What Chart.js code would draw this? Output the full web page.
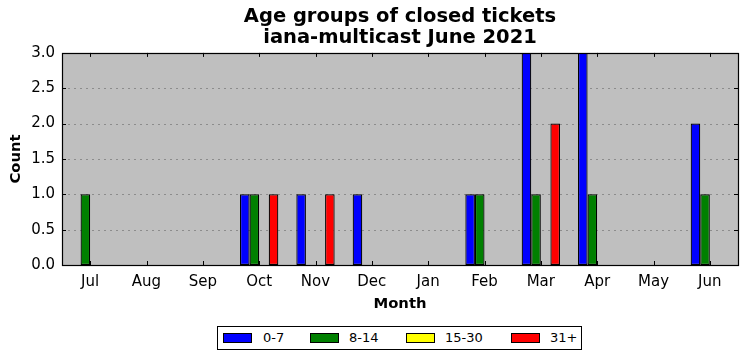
<!DOCTYPE html>
<html>
<head>
<meta charset="utf-8">
<script src="https://cdn.jsdelivr.net/npm/chart.js@4/dist/chart.umd.min.js"></script>
<style>
  html, body { margin: 0; padding: 0; background: #fff; }
  #wrap { position: relative; width: 747px; height: 361px; font-family: "DejaVu Sans", sans-serif; }
  #legend { position: absolute; left: 217px; top: 326px; width: 363px; height: 22px; border: 1px solid #000; background: #fff; box-sizing: content-box; }
  .item { position: absolute; top: 0; height: 22px; line-height: 22px; font-size: 13px; color: #000; }
  .sw { position: absolute; top: 6px; width: 27px; height: 8px; border: 1px solid #000; }
  .lbl { position: absolute; white-space: nowrap; }
</style>
</head>
<body>
<div id="wrap">
  <canvas id="c" width="747" height="361"></canvas>
  <div id="legend"></div>
</div>
<script>
const titleLines = ["Age groups of closed tickets", "iana-multicast June 2021"];
const months = ["Jul", "Aug", "Sep", "Oct", "Nov", "Dec", "Jan", "Feb", "Mar", "Apr", "May", "Jun"];
const seriesNames = ["0-7", "8-14", "15-30", "31+"];
const seriesColors = ["#0000ff", "#008000", "#ffff00", "#ff0000"];
const age0to7   = [0, 0, 0, 1, 1, 1, 0, 1, 3, 3, 0, 2];
const age8to14  = [1, 0, 0, 1, 0, 0, 0, 1, 1, 1, 0, 1];
const age15to30 = [0, 0, 0, 0, 0, 0, 0, 0, 0, 0, 0, 0];
const age31plus = [0, 0, 0, 1, 1, 0, 0, 0, 2, 0, 0, 0];
const yTicks = [0, 0.5, 1.0, 1.5, 2.0, 2.5, 3.0];
const seriesValues = [age0to7, age8to14, age15to30, age31plus];

const frame = {
  id: 'frame',
  beforeDatasetsDraw(chart) {
    const {ctx, chartArea: a} = chart;
    ctx.save();
    ctx.fillStyle = '#bfbfbf';
    ctx.fillRect(a.left, a.top, a.right - a.left, a.bottom - a.top);
    const ys = chart.scales.y;
    ctx.strokeStyle = '#8c8c8c';
    ctx.lineWidth = 1;
    ctx.setLineDash([2, 4]);
    yTicks.forEach(v => {
      const y = Math.round(ys.getPixelForValue(v)) + 0.5;
      ctx.beginPath(); ctx.moveTo(a.left, y); ctx.lineTo(a.right, y); ctx.stroke();
    });
    ctx.restore();
  },
  afterDatasetsDraw(chart) {
    const {ctx, chartArea: a} = chart;
    const ys = chart.scales.y, xs = chart.scales.x;
    ctx.save();
    ctx.strokeStyle = '#000';
    ctx.lineWidth = 1;
    ctx.setLineDash([]);
    const L = 4;
    yTicks.forEach(v => {
      const y = Math.round(ys.getPixelForValue(v)) + 0.5;
      ctx.beginPath();
      ctx.moveTo(a.left, y); ctx.lineTo(a.left + L, y);
      ctx.moveTo(a.right, y); ctx.lineTo(a.right - L, y);
      ctx.stroke();
    });
    months.forEach((m, i) => {
      const x = Math.round(xs.getPixelForValue(i)) + 0.5;
      ctx.beginPath();
      ctx.moveTo(x, a.bottom); ctx.lineTo(x, a.bottom - L);
      ctx.moveTo(x, a.top); ctx.lineTo(x, a.top + L);
      ctx.stroke();
    });
    ctx.lineWidth = 1.2;
    ctx.strokeRect(Math.round(a.left) + 0.5, Math.round(a.top) + 0.5, Math.round(a.right - a.left), Math.round(a.bottom - a.top));
    ctx.restore();
  }
};

new Chart(document.getElementById('c'), {
  type: 'bar',
  data: {
    labels: months,
    datasets: seriesNames.map((n, i) => ({
      label: n,
      data: seriesValues[i],
      backgroundColor: seriesColors[i],
      borderColor: '#000',
      borderWidth: 1.2,
      borderSkipped: false,
      inflateAmount: 0,
      barPercentage: 1.0,
      categoryPercentage: 0.68
    }))
  },
  options: {
    responsive: false,
    animation: false,
    layout: { padding: { left: 0, right: 9, top: 0, bottom: 48 } },
    plugins: {
      legend: { display: false },
      tooltip: { enabled: false },
      title: {
        display: true,
        fullSize: false,
        text: titleLines,
        color: '#000',
        font: { family: 'DejaVu Sans', size: 19.5, weight: 'bold', lineHeight: 1.1 },
        padding: { top: 6, bottom: 4 }
      }
    },
    scales: {
      x: {
        grid: { display: false, drawTicks: false },
        border: { display: false },
        ticks: { color: '#000', font: { family: 'DejaVu Sans', size: 15 }, padding: 8, maxRotation: 0 },
        title: { display: true, text: 'Month', color: '#000', font: { family: 'DejaVu Sans', size: 14.8, weight: 'bold', lineHeight: 1.2 }, padding: { top: 3, bottom: 0 } },
        afterFit(s) { s.height = 48; }
      },
      y: {
        min: 0, max: 3,
        grid: { display: false, drawTicks: false },
        border: { display: false },
        ticks: { stepSize: 0.5, color: '#000', font: { family: 'DejaVu Sans', size: 15 }, padding: 7, callback: v => Number(v).toFixed(1) },
        title: { display: true, text: 'Count', color: '#000', font: { family: 'DejaVu Sans', size: 14.8, weight: 'bold', lineHeight: 1.2 }, padding: { top: 7, bottom: 0 } },
        afterFit(s) { s.width = 62; }
      }
    }
  },
  plugins: [frame]
});

const legendPos = [[5, 45], [92, 131], [188, 227], [293, 332]];
const lg = document.getElementById('legend');
seriesNames.forEach((n, i) => {
  const sw = document.createElement('div');
  sw.className = 'sw';
  sw.style.left = legendPos[i][0] + 'px';
  sw.style.background = seriesColors[i];
  lg.appendChild(sw);
  const t = document.createElement('div');
  t.className = 'item lbl';
  t.style.left = legendPos[i][1] + 'px';
  t.textContent = n;
  lg.appendChild(t);
});
</script>
</body>
</html>
